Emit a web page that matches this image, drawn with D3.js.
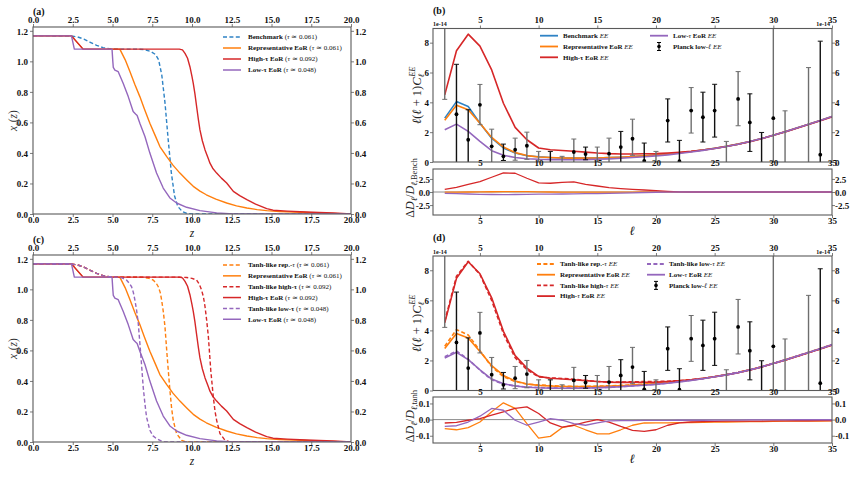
<!DOCTYPE html>
<html><head><meta charset="utf-8">
<script src="https://cdn.jsdelivr.net/npm/d3@7"></script>
<style>
body{margin:0;background:#fff}
svg text{font-family:"Liberation Serif","Times New Roman",serif}
</style></head><body><svg id="c" width="855" height="492"></svg>
<script>
// ---------------- DATA ----------------
// Panel (a)/(c): ionization histories x_e(z)
const xTicksZ = [0,2.5,5,7.5,10,12.5,15,17.5,20];
const yTicksXe = [0,0.2,0.4,0.6,0.8,1.0,1.2];
const benchZ  = [0,2.4,2.8,3.2,3.6,4.0,4.4,4.8,5.5,6.5,7.0,7.4,7.7,7.9,8.1,8.3,8.5,8.7,8.9,9.1,9.4,9.7,10,20];
const benchXe = [1.167,1.166,1.16,1.146,1.125,1.105,1.09,1.083,1.08,1.08,1.077,1.065,1.045,1.01,0.91,0.73,0.49,0.27,0.12,0.05,0.015,0.003,0,0];
const repZ  = [0,2.42,3.15,5.46,5.8,6.1,6.4,6.72,7.0,7.35,7.7,7.98,8.4,8.8,9.24,9.7,10.08,10.5,10.9,11.5,12.18,12.8,13.45,14.1,14.7,15.5,16.8,18,20];
const repXe = [1.167,1.167,1.08,1.08,1.01,0.932,0.85,0.769,0.69,0.595,0.51,0.442,0.377,0.32,0.268,0.22,0.181,0.15,0.126,0.097,0.072,0.053,0.039,0.029,0.022,0.016,0.011,0.006,0];
const highZ  = [0,2.42,3.15,9.2,9.4,9.56,9.72,9.87,10.0,10.08,10.18,10.29,10.4,10.5,10.65,10.82,11.0,11.13,11.3,11.55,11.85,12.18,12.6,13.0,13.45,14.0,14.7,15.1,16,16.8,18,18.9,20];
const highXe = [1.167,1.167,1.08,1.08,1.075,1.052,1.02,0.965,0.9,0.856,0.79,0.704,0.62,0.551,0.48,0.42,0.37,0.333,0.3,0.268,0.235,0.203,0.148,0.12,0.094,0.065,0.035,0.025,0.019,0.015,0.01,0.007,0];
const lowZ  = [0,2.42,2.6,4.97,5.02,5.05,5.15,5.36,5.67,5.99,6.3,6.45,6.55,6.72,7.04,7.35,7.77,8.19,8.61,9.03,9.66,10.5,11.55,12.6,20];
const lowXe = [1.167,1.167,1.08,1.08,1.0,0.96,0.943,0.932,0.856,0.769,0.671,0.655,0.645,0.595,0.508,0.399,0.268,0.17,0.105,0.072,0.044,0.022,0.007,0,0];
const tanhRepZ  = [0,2.4,2.8,3.2,3.6,4.0,4.4,4.8,5.5,6.5,7.0,7.3,7.56,7.75,7.88,8.0,8.09,8.2,8.3,8.44,8.61,8.72,8.82,9.03,9.35,9.66,20];
const tanhRepXe = [1.167,1.166,1.16,1.146,1.125,1.105,1.09,1.083,1.08,1.08,1.078,1.072,1.061,1.04,1.017,0.98,0.93,0.85,0.755,0.558,0.339,0.22,0.142,0.055,0.011,0,0];
const tanhHighZ  = [0,2.4,2.8,3.2,3.6,4.0,4.4,4.8,5.5,9.0,9.66,10.0,10.29,10.45,10.6,10.72,10.82,10.92,11.03,11.18,11.34,11.45,11.55,11.76,12.08,12.39,20];
const tanhHighXe = [1.167,1.166,1.16,1.146,1.125,1.105,1.09,1.083,1.08,1.08,1.078,1.072,1.061,1.035,0.996,0.95,0.886,0.8,0.689,0.47,0.295,0.2,0.142,0.055,0.011,0,0];
const tanhLowZ  = [0,2.4,2.8,3.2,3.6,4.0,4.4,4.8,5.3,5.6,5.88,6.05,6.2,6.31,6.41,6.52,6.62,6.79,6.93,7.04,7.14,7.35,7.55,7.77,8.19,20];
const tanhLowXe = [1.167,1.166,1.16,1.146,1.125,1.105,1.09,1.083,1.08,1.075,1.061,1.04,1.017,0.98,0.93,0.86,0.777,0.558,0.361,0.25,0.164,0.077,0.04,0.022,0,0];

// Panel (b)/(d): EE spectra, units of 1e-14
const ell = [2,3,4,5,6,7,8,9,10,11,12,13,14,15,16,17,18,19,20,21,22,23,24,25,26,27,28,29,30,31,32,33,34,35];
const xTicksEll = [5,10,15,20,25,30,35];
const yTicksEE = [0,2,4,6,8];
const eeBench = [2.94,4.05,3.72,2.6,1.6,0.94,0.6,0.42,0.35,0.3,0.27,0.26,0.26,0.27,0.29,0.32,0.36,0.41,0.47,0.54,0.62,0.7,0.8,0.92,1.05,1.2,1.37,1.57,1.8,2.03,2.28,2.53,2.78,3.05];
const eeRep   = [2.8,3.8,3.5,2.6,1.65,1.0,0.63,0.43,0.34,0.3,0.27,0.26,0.26,0.27,0.29,0.32,0.36,0.41,0.47,0.54,0.62,0.7,0.8,0.92,1.05,1.2,1.37,1.57,1.8,2.03,2.28,2.53,2.78,3.05];
const eeHigh  = [4.5,7.46,8.57,7.77,6.17,3.94,2.32,1.49,0.94,0.82,0.77,0.72,0.66,0.6,0.56,0.54,0.54,0.55,0.56,0.6,0.65,0.71,0.8,0.91,1.04,1.19,1.36,1.56,1.79,2.02,2.26,2.51,2.76,3.02];
const eeLow   = [2.16,2.54,2.05,1.38,0.76,0.45,0.3,0.22,0.18,0.16,0.15,0.15,0.16,0.18,0.21,0.25,0.3,0.35,0.41,0.48,0.57,0.67,0.78,0.91,1.04,1.19,1.37,1.57,1.8,2.03,2.28,2.53,2.78,3.05];
const eeTanhRep  = [2.95,4.05,3.7,2.65,1.58,0.92,0.6,0.43,0.37,0.32,0.29,0.27,0.27,0.29,0.31,0.34,0.37,0.42,0.48,0.55,0.63,0.71,0.81,0.93,1.06,1.21,1.38,1.58,1.81,2.04,2.29,2.54,2.79,3.06];
const eeTanhHigh = [4.6,7.6,8.6,7.72,6.0,3.78,2.18,1.39,0.91,0.84,0.8,0.75,0.67,0.6,0.57,0.56,0.58,0.59,0.6,0.62,0.66,0.72,0.81,0.92,1.05,1.2,1.37,1.57,1.8,2.03,2.27,2.52,2.77,3.03];
const eeTanhLow  = [2.25,2.63,2.08,1.35,0.71,0.43,0.3,0.23,0.2,0.17,0.16,0.16,0.17,0.19,0.22,0.26,0.31,0.36,0.42,0.49,0.58,0.68,0.79,0.92,1.05,1.2,1.38,1.58,1.81,2.04,2.29,2.54,2.79,3.06];

// residuals vs benchmark (b)
const yTicksResB = [-2.5,0,2.5];
const resBRep  = [-0.03,-0.02,0.0,0.02,0.05,0.07,0.08,0.06,0.03,0.0,-0.02,-0.03,-0.04,-0.04,-0.03,-0.02,-0.01,0,0,0,0,0,0,0,0,0,0,0,0,0,0,0,0,0];
const resBHigh = [0.51,0.9,1.47,1.99,2.82,3.65,3.59,2.63,1.73,1.67,1.86,1.92,1.47,1.15,0.83,0.65,0.5,0.38,0.25,0.12,0.03,0,0,0,0,0,0,0,0,0,0,0,0,0];
const resBLow  = [-0.25,-0.3,-0.38,-0.45,-0.48,-0.5,-0.48,-0.45,-0.42,-0.4,-0.38,-0.36,-0.33,-0.3,-0.26,-0.21,-0.16,-0.1,-0.05,-0.02,0,0,0,0,0,0,0,0,0,0,0,0,0,0];
// residuals vs tanh (d)
const yTicksResD = [-0.1,0,0.1];
const resDRep  = [-0.056,-0.063,-0.05,-0.015,0.048,0.104,0.069,-0.025,-0.115,-0.104,-0.05,-0.035,-0.063,-0.088,-0.088,-0.063,-0.035,-0.021,-0.02,-0.02,-0.019,-0.018,-0.017,-0.016,-0.015,-0.014,-0.013,-0.012,-0.011,-0.01,-0.01,-0.009,-0.009,-0.008];
const resDHigh = [-0.021,-0.017,-0.004,0.006,0.027,0.048,0.069,0.079,0.0375,-0.021,-0.046,-0.035,-0.015,0.0,-0.015,-0.042,-0.067,-0.073,-0.063,-0.035,-0.02,-0.015,-0.012,-0.011,-0.01,-0.01,-0.009,-0.009,-0.008,-0.008,-0.007,-0.007,-0.006,-0.006];
const resDLow  = [-0.042,-0.038,-0.015,0.021,0.069,0.058,-0.004,-0.035,-0.015,0.006,-0.004,-0.025,-0.035,-0.021,-0.008,-0.006,-0.006,-0.005,-0.005,-0.005,-0.004,-0.004,-0.004,-0.003,-0.003,-0.003,-0.002,-0.002,-0.002,-0.002,-0.001,-0.001,-0.001,-0.001];

// Planck low-ell EE points (value, lower, upper), units of 1e-14
const planckEll = [2,3,4,5,6,7,8,9,10,11,12,13,14,15,16,17,18,19,20,21,22,23,24,25,26,27,28,29,30,31,33,34];
const planckVal = [10.5,3.2,1.49,3.83,1.05,0.38,0.82,1.09,-0.2,-0.2,-0.2,0.67,0.53,-0.1,0.56,1.0,1.56,0.08,-0.2,2.78,0.05,3.45,3.0,3.45,-0.3,4.23,2.65,-0.1,2.94,-0.3,-0.5,0.49];
const planckLo  = [4.2,-1,-1,2.5,-0.5,0.1,0.12,0.18,-1,-1,-1,-0.5,0.15,-1,-0.5,-0.1,0.45,-1,-1,1.34,-1,1.94,1.34,1.67,-1,2.43,0.71,-1,-3,-1.5,-2,-1];
const planckHi  = [17,6.55,3.5,5.2,2.2,1.2,1.6,2.0,0.71,0.71,0.38,1.54,1.0,1.0,1.6,2.05,2.87,1.27,0.71,4.23,1.45,4.99,4.68,5.21,1.38,6.06,4.57,1.98,12,3.43,6.33,8.1];
const planckSet = ["g","k","k","g","g","k","g","g","g","k","g","g","k","g","g","k","g","k","g","k","k","g","k","k","g","g","k","k","g","g","g","k"];

// ---------------- DRAWING ----------------
const W=855,H=492, SERIF='"Liberation Serif","Times New Roman",serif';
const FR="#5a5a5a";
const COL={blue:"#2f83c5",orange:"#ff7f0e",red:"#d62728",purple:"#9467bd",grid:"#8c8c8c"};
const DASH="4,2.4";
const TFS=9;
const svg=d3.select("#c");
svg.append("rect").attr("width",W).attr("height",H).attr("fill","#fff");
const defs=svg.append("defs");
let clipN=0;

function panel(L,R,T,B,xd,yd){
  const g=svg.append("g");
  const xs=d3.scaleLinear().domain(xd).range([L,R]);
  const ys=d3.scaleLinear().domain(yd).range([B,T]);
  const id="clp"+(clipN++);
  defs.append("clipPath").attr("id",id).append("rect").attr("x",L).attr("y",T).attr("width",R-L).attr("height",B-T);
  const plot=g.append("g").attr("clip-path",`url(#${id})`);
  return {g,xs,ys,plot,L,R,T,B};
}
function frame(p){
  p.g.append("rect").attr("x",p.L).attr("y",p.T).attr("width",p.R-p.L).attr("height",p.B-p.T)
   .attr("fill","none").attr("stroke",FR).attr("stroke-width",1.1);
}
function styleAxis(g,fs){
  g.select(".domain").remove();
  g.selectAll(".tick line").attr("stroke",FR).attr("stroke-width",0.8);
  g.selectAll(".tick text").attr("fill","#111").attr("font-size",fs).attr("font-weight","bold").attr("font-family",SERIF);
}
function xAxis(p,ticks,fmt,where,labelCy,tick){
  const y = where==="top"?p.T:p.B;
  const ax=(where==="top"?d3.axisTop(p.xs):d3.axisBottom(p.xs)).tickValues(ticks).tickFormat(fmt).tickSizeInner(tick).tickSizeOuter(0);
  const g=p.g.append("g").attr("transform",`translate(0,${y})`).call(ax);
  styleAxis(g,TFS);
  g.selectAll(".tick text").attr("y",labelCy-y).attr("dy","0.36em");
  return g;
}
function yAxis(p,ticks,fmt,where,gap){
  const x = where==="left"?p.L:p.R;
  const ax=(where==="left"?d3.axisLeft(p.ys):d3.axisRight(p.ys)).tickValues(ticks).tickFormat(fmt).tickSizeInner(3).tickSizeOuter(0);
  const g=p.g.append("g").attr("transform",`translate(${x},0)`).call(ax);
  styleAxis(g,TFS);
  g.selectAll(".tick text").attr("x",where==="left"?-gap:gap).attr("dy","0.36em");
  return g;
}
function line(p,xv,yv,color,dashed,w){
  const pts=xv.map((x,i)=>[x,yv[i]]);
  p.plot.append("path").datum(pts)
   .attr("d",d3.line().x(d=>p.xs(d[0])).y(d=>p.ys(d[1])))
   .attr("fill","none").attr("stroke",color).attr("stroke-width",w||1.3)
   .attr("stroke-dasharray",dashed?DASH:null).attr("stroke-linejoin","round");
}
function rich(t,parts){
  parts.forEach(([s,st])=>{
    const ts=t.append("tspan").text(s);
    ts.attr("font-weight",st.includes("b")?"bold":"normal");
    ts.attr("font-style",st.includes("i")?"italic":"normal");
  });
}
function legend(x0,y0,dy,items,fs,lw){
  items.forEach((it,i)=>{
    const y=y0+i*dy;
    if(it.err){
      const cx=x0+9;
      svg.append("line").attr("x1",cx).attr("x2",cx).attr("y1",y-4).attr("y2",y+4).attr("stroke","#000").attr("stroke-width",1.1);
      svg.append("line").attr("x1",cx-2).attr("x2",cx+2).attr("y1",y-4).attr("y2",y-4).attr("stroke","#000").attr("stroke-width",1);
      svg.append("line").attr("x1",cx-2).attr("x2",cx+2).attr("y1",y+4).attr("y2",y+4).attr("stroke","#000").attr("stroke-width",1);
      svg.append("circle").attr("cx",cx).attr("cy",y).attr("r",1.8).attr("fill","#000");
    } else {
      svg.append("line").attr("x1",x0).attr("x2",x0+18).attr("y1",y).attr("y2",y)
        .attr("stroke",it.c).attr("stroke-width",lw||1.5).attr("stroke-dasharray",it.d?DASH:null);
    }
    const t=svg.append("text").attr("x",x0+it.tx).attr("y",y).attr("dy","0.34em").attr("font-size",fs).attr("fill","#111");
    rich(t,it.parts);
  });
}
function txt(x,y,s,fs,opts){
  const t=svg.append("text").attr("x",x).attr("y",y).attr("font-size",fs).attr("fill","#111");
  if(opts&&opts.anchor) t.attr("text-anchor",opts.anchor);
  if(opts&&opts.bold) t.attr("font-weight","bold");
  if(opts&&opts.italic) t.attr("font-style","italic");
  t.attr("dy","0.35em");
  t.text(s);
  return t;
}
const f1=d3.format(".1f"), fInt=d3.format("d");
const fRes=d=>d3.format(".1f")(d).replace("−","-");

// ===== Left column (a), (c)
function xePanel(T,B,label,series){
  const p=panel(33,351,T,B,[0,20],[0,1.225]);
  series.forEach(s=>line(p,s[0],s[1],s[2],s[3],1.4));
  frame(p);
  xAxis(p,xTicksZ,f1,"bottom",B+6,3);
  xAxis(p,xTicksZ,f1,"top",T-7,3);
  yAxis(p,yTicksXe,f1,"left",5);
  yAxis(p,yTicksXe,f1,"right",4);
  txt(33,T-16,label,10,{bold:true});
  txt(192,B+19,"z",11.5,{anchor:"middle",italic:true});
  const yl=svg.append("text").attr("x",13).attr("y",(T+B)/2).attr("text-anchor","middle").attr("dy","0.35em")
     .attr("font-size",11.5).attr("fill","#333").attr("transform",`rotate(-90,13,${(T+B)/2})`);
  yl.append("tspan").attr("font-style","italic").text("x");
  yl.append("tspan").attr("font-style","italic").attr("font-size",8).attr("dy",2.5).text("e");
  yl.append("tspan").attr("dy",-2.5).text("(");
  yl.append("tspan").attr("font-style","italic").text("z");
  yl.append("tspan").text(")");
  return p;
}
xePanel(27,214,"(a)",[
  [benchZ,benchXe,COL.blue,true],
  [repZ,repXe,COL.orange,false],
  [highZ,highXe,COL.red,false],
  [lowZ,lowXe,COL.purple,false]
]);
legend(223,37,11,[
  {c:COL.blue,d:true,tx:25,parts:[["Benchmark ","b"],["(","n"],["τ","i"],[" ≃ 0.061)","n"]]},
  {c:COL.orange,tx:25,parts:[["Representative EoR ","b"],["(","n"],["τ","i"],[" ≃ 0.061)","n"]]},
  {c:COL.red,tx:25,parts:[["High-τ EoR ","b"],["(","n"],["τ","i"],[" ≃ 0.092)","n"]]},
  {c:COL.purple,tx:25,parts:[["Low-τ EoR ","b"],["(","n"],["τ","i"],[" ≃ 0.048)","n"]]}
],7);

xePanel(255,442,"(c)",[
  [tanhRepZ,tanhRepXe,COL.orange,true],
  [repZ,repXe,COL.orange,false],
  [tanhHighZ,tanhHighXe,COL.red,true],
  [highZ,highXe,COL.red,false],
  [tanhLowZ,tanhLowXe,COL.purple,true],
  [lowZ,lowXe,COL.purple,false]
]);
legend(223,265,10.85,[
  {c:COL.orange,d:true,tx:25,parts:[["Tanh-like rep.-","b"],["τ","i"],[" (","n"],["τ","i"],[" ≃ 0.061)","n"]]},
  {c:COL.orange,tx:25,parts:[["Representative EoR ","b"],["(","n"],["τ","i"],[" ≃ 0.061)","n"]]},
  {c:COL.red,d:true,tx:25,parts:[["Tanh-like high-τ ","b"],["(","n"],["τ","i"],[" ≃ 0.092)","n"]]},
  {c:COL.red,tx:25,parts:[["High-τ EoR ","b"],["(","n"],["τ","i"],[" ≃ 0.092)","n"]]},
  {c:COL.purple,d:true,tx:25,parts:[["Tanh-like low-τ ","b"],["(","n"],["τ","i"],[" ≃ 0.048)","n"]]},
  {c:COL.purple,tx:25,parts:[["Low-τ EoR ","b"],["(","n"],["τ","i"],[" ≃ 0.048)","n"]]}
],7);

// ===== Right column (b), (d)
function eePanel(T,B,RT,RB,label,series,resSeries,resDomain,resTicks,resName){
  const p=panel(433,832,T,B,[1,35],[0,8.95]);
  series.forEach(s=>line(p,ell,s[0],s[1],s[2],1.6));
  // Planck error bars
  const pd=planckEll.map((l,i)=>({l,v:planckVal[i],lo:planckLo[i],hi:planckHi[i],s:planckSet[i]}));
  const gE=p.plot.selectAll("g.eb").data(pd).enter().append("g");
  const ec=d=>d.s==="k"?"#111":"#6e6e6e";
  gE.append("line").attr("x1",d=>p.xs(d.l)).attr("x2",d=>p.xs(d.l)).attr("y1",d=>p.ys(d.lo)).attr("y2",d=>p.ys(d.hi)).attr("stroke",ec).attr("stroke-width",1.4);
  gE.append("line").attr("x1",d=>p.xs(d.l)-2.5).attr("x2",d=>p.xs(d.l)+2.5).attr("y1",d=>p.ys(d.lo)).attr("y2",d=>p.ys(d.lo)).attr("stroke",ec).attr("stroke-width",1);
  gE.append("line").attr("x1",d=>p.xs(d.l)-2.5).attr("x2",d=>p.xs(d.l)+2.5).attr("y1",d=>p.ys(d.hi)).attr("y2",d=>p.ys(d.hi)).attr("stroke",ec).attr("stroke-width",1);
  gE.append("circle").attr("cx",d=>p.xs(d.l)).attr("cy",d=>p.ys(d.v)).attr("r",1.9).attr("fill","#000");
  frame(p);
  xAxis(p,xTicksEll,fInt,"top",T-8.5,3);
  xAxis(p,xTicksEll,fInt,"bottom",B+0.8,0);
  yAxis(p,yTicksEE,fInt,"left",4);
  yAxis(p,yTicksEE,fInt,"right",3);
  txt(433,T-4.5,"1e-14",6,{bold:true});
  txt(830,T-4.5,"1e-14",6,{bold:true,anchor:"end"});
  txt(433,T-18.5,label,10,{bold:true});
  // y-label main
  const cy=(T+B)/2, lx=417;
  const yl=svg.append("text").attr("x",lx).attr("y",cy).attr("dy","0.35em").attr("text-anchor","middle").attr("font-size",12.5).attr("fill","#222")
     .attr("font-style","italic").attr("transform",`rotate(-90,${lx},${cy})`);
  yl.append("tspan").text("ℓ");
  yl.append("tspan").attr("font-style","normal").text("(");
  yl.append("tspan").text("ℓ");
  yl.append("tspan").attr("font-style","normal").text(" + 1)");
  yl.append("tspan").text("C");
  yl.append("tspan").attr("font-size",8.5).attr("dy",3).text("ℓ");
  yl.append("tspan").attr("font-size",8.5).attr("dx",-3).attr("dy",-9).text("EE");
  // residual
  const r=panel(433,832,RT,RB,[1,35],resDomain);
  r.plot.append("line").attr("x1",r.L).attr("x2",r.R).attr("y1",r.ys(0)).attr("y2",r.ys(0)).attr("stroke",COL.grid).attr("stroke-width",1);
  resSeries.forEach(s=>line(r,ell,s[0],s[1],false,1.3));
  frame(r);
  xAxis(r,xTicksEll,fInt,"bottom",RB+6,3);
  yAxis(r,resTicks,fRes,"left",3);
  yAxis(r,resTicks,fRes,"right",3);
  const rc=(RT+RB)/2-4, rx=410;
  const rl=svg.append("text").attr("x",rx).attr("y",rc).attr("dy","0.35em").attr("text-anchor","middle").attr("font-size",12).attr("fill","#222")
     .attr("transform",`rotate(-90,${rx},${rc})`);
  rl.append("tspan").text("Δ");
  rl.append("tspan").attr("font-style","italic").text("D");
  rl.append("tspan").attr("font-style","italic").attr("font-size",8.5).attr("dy",2.5).text("ℓ");
  rl.append("tspan").attr("dy",-2.5).text("/");
  rl.append("tspan").attr("font-style","italic").text("D");
  rl.append("tspan").attr("font-size",8.5).attr("dy",2.5).html('<tspan font-style="italic">ℓ</tspan>,'+resName);
  txt(632,RB+16,"ℓ",12.5,{anchor:"middle",italic:true});
  return p;
}
eePanel(28.5,162,169,215,"(b)",[
  [eeBench,COL.blue,false],
  [eeRep,COL.orange,false],
  [eeHigh,COL.red,false],
  [eeLow,COL.purple,false]
],[[resBRep,COL.orange],[resBHigh,COL.red],[resBLow,COL.purple]],[-4.4,4.4],yTicksResB,"Bench");
legend(540,35.7,10.8,[
  {c:COL.blue,tx:23,parts:[["Benchmark ","b"],["EE","i"]]},
  {c:COL.orange,tx:23,parts:[["Representative EoR ","b"],["EE","i"]]},
  {c:COL.red,tx:23,parts:[["High-τ EoR ","b"],["EE","i"]]}
],7,1.8);
legend(650,35.7,10.8,[
  {c:COL.purple,tx:23,parts:[["Low-","b"],["τ","i"],[" EoR ","b"],["EE","i"]]},
  {err:true,tx:23,parts:[["Planck low-","b"],["ℓ","i"],[" EE","i"]]}
],7,1.8);

eePanel(256,390.5,397,443,"(d)",[
  [eeTanhRep,COL.orange,true],
  [eeRep,COL.orange,false],
  [eeTanhHigh,COL.red,true],
  [eeHigh,COL.red,false],
  [eeTanhLow,COL.purple,true],
  [eeLow,COL.purple,false]
],[[resDRep,COL.orange],[resDHigh,COL.red],[resDLow,COL.purple]],[-0.145,0.14],yTicksResD,"tanh");
legend(537,264,10.7,[
  {c:COL.orange,d:true,tx:23,parts:[["Tanh-like rep.-","b"],["τ","i"],[" EE","i"]]},
  {c:COL.orange,tx:23,parts:[["Representative EoR ","b"],["EE","i"]]},
  {c:COL.red,d:true,tx:23,parts:[["Tanh-like high-","b"],["τ","i"],[" EE","i"]]},
  {c:COL.red,tx:23,parts:[["High-","b"],["τ","i"],[" EoR ","b"],["EE","i"]]}
],7,1.8);
legend(647,264,10.7,[
  {c:COL.purple,d:true,tx:22,parts:[["Tanh-like low-","b"],["τ","i"],[" EE","i"]]},
  {c:COL.purple,tx:22,parts:[["Low-","b"],["τ","i"],[" EoR ","b"],["EE","i"]]},
  {err:true,tx:22,parts:[["Planck low-","b"],["ℓ","i"],[" EE","i"]]}
],7,1.8);
</script></body></html>
